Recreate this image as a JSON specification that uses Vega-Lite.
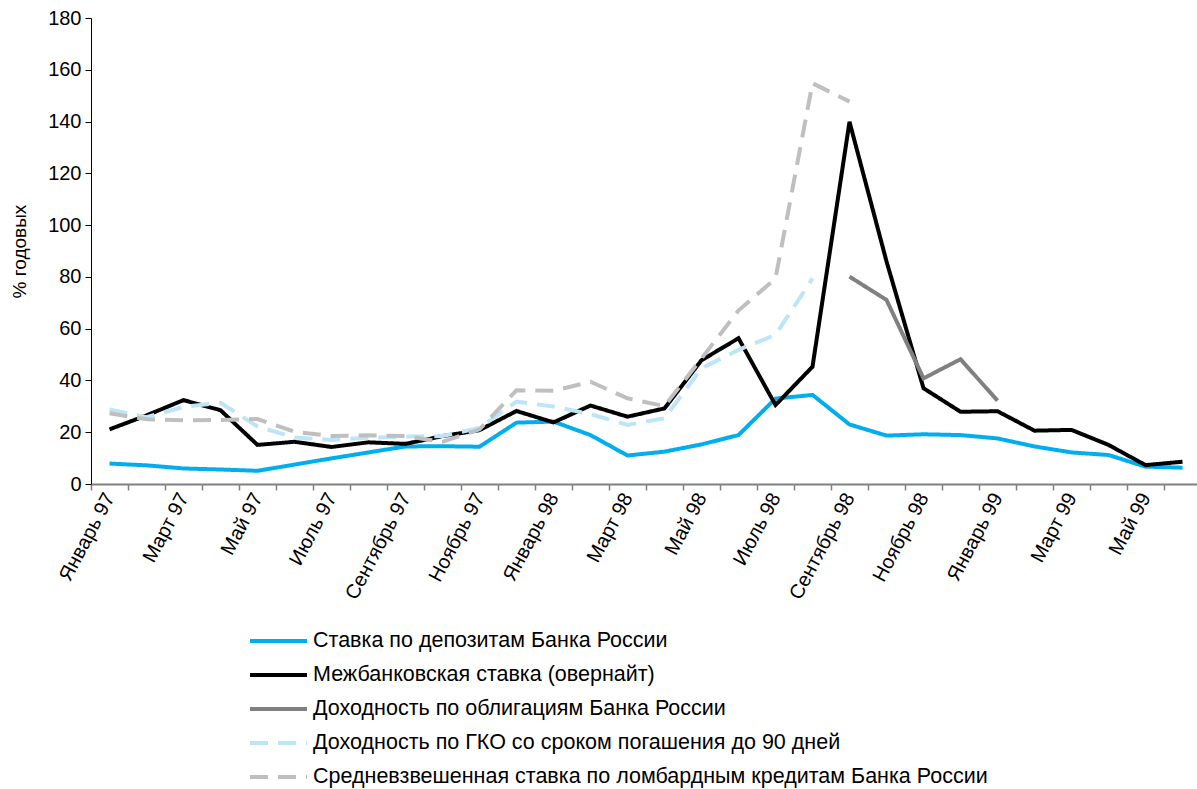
{
  "$schema": "https://vega.github.io/schema/vega-lite/v6.json",
  "width": 1110,
  "height": 466,
  "autosize": {"type": "none"},
  "padding": {"left": 91, "top": 18, "right": 0, "bottom": 305},
  "background": "white",
  "config": {"font": "Liberation Sans", "view": {"stroke": null}},
  "data": {"values": [
    {"m":"Январь 97","s":"Ставка по депозитам Банка России","v":7.9},
    {"m":"Февраль 97","s":"Ставка по депозитам Банка России","v":7.2},
    {"m":"Март 97","s":"Ставка по депозитам Банка России","v":6.0},
    {"m":"Апрель 97","s":"Ставка по депозитам Банка России","v":5.6},
    {"m":"Май 97","s":"Ставка по депозитам Банка России","v":5.1},
    {"m":"Июнь 97","s":"Ставка по депозитам Банка России","v":7.5},
    {"m":"Июль 97","s":"Ставка по депозитам Банка России","v":9.9},
    {"m":"Август 97","s":"Ставка по депозитам Банка России","v":12.2},
    {"m":"Сентябрь 97","s":"Ставка по депозитам Банка России","v":14.5},
    {"m":"Октябрь 97","s":"Ставка по депозитам Банка России","v":14.6},
    {"m":"Ноябрь 97","s":"Ставка по депозитам Банка России","v":14.4},
    {"m":"Декабрь 97","s":"Ставка по депозитам Банка России","v":23.7},
    {"m":"Январь 98","s":"Ставка по депозитам Банка России","v":24.1},
    {"m":"Февраль 98","s":"Ставка по депозитам Банка России","v":18.9},
    {"m":"Март 98","s":"Ставка по депозитам Банка России","v":11.0},
    {"m":"Апрель 98","s":"Ставка по депозитам Банка России","v":12.5},
    {"m":"Май 98","s":"Ставка по депозитам Банка России","v":15.3},
    {"m":"Июнь 98","s":"Ставка по депозитам Банка России","v":18.9},
    {"m":"Июль 98","s":"Ставка по депозитам Банка России","v":33.0},
    {"m":"Август 98","s":"Ставка по депозитам Банка России","v":34.4},
    {"m":"Сентябрь 98","s":"Ставка по депозитам Банка России","v":23.0},
    {"m":"Октябрь 98","s":"Ставка по депозитам Банка России","v":18.7},
    {"m":"Ноябрь 98","s":"Ставка по депозитам Банка России","v":19.2},
    {"m":"Декабрь 98","s":"Ставка по депозитам Банка России","v":18.9},
    {"m":"Январь 99","s":"Ставка по депозитам Банка России","v":17.6},
    {"m":"Февраль 99","s":"Ставка по депозитам Банка России","v":14.5},
    {"m":"Март 99","s":"Ставка по депозитам Банка России","v":12.2},
    {"m":"Апрель 99","s":"Ставка по депозитам Банка России","v":11.2},
    {"m":"Май 99","s":"Ставка по депозитам Банка России","v":6.7},
    {"m":"Июнь 99","s":"Ставка по депозитам Банка России","v":6.3},

    {"m":"Январь 97","s":"Межбанковская ставка (овернайт)","v":21.1},
    {"m":"Февраль 97","s":"Межбанковская ставка (овернайт)","v":26.5},
    {"m":"Март 97","s":"Межбанковская ставка (овернайт)","v":32.4},
    {"m":"Апрель 97","s":"Межбанковская ставка (овернайт)","v":28.5},
    {"m":"Май 97","s":"Межбанковская ставка (овернайт)","v":15.1},
    {"m":"Июнь 97","s":"Межбанковская ставка (овернайт)","v":16.3},
    {"m":"Июль 97","s":"Межбанковская ставка (овернайт)","v":14.3},
    {"m":"Август 97","s":"Межбанковская ставка (овернайт)","v":16.1},
    {"m":"Сентябрь 97","s":"Межбанковская ставка (овернайт)","v":15.5},
    {"m":"Октябрь 97","s":"Межбанковская ставка (овернайт)","v":18.5},
    {"m":"Ноябрь 97","s":"Межбанковская ставка (овернайт)","v":20.8},
    {"m":"Декабрь 97","s":"Межбанковская ставка (овернайт)","v":28.2},
    {"m":"Январь 98","s":"Межбанковская ставка (овернайт)","v":23.8},
    {"m":"Февраль 98","s":"Межбанковская ставка (овернайт)","v":30.3},
    {"m":"Март 98","s":"Межбанковская ставка (овернайт)","v":26.0},
    {"m":"Апрель 98","s":"Межбанковская ставка (овернайт)","v":29.2},
    {"m":"Май 98","s":"Межбанковская ставка (овернайт)","v":47.8},
    {"m":"Июнь 98","s":"Межбанковская ставка (овернайт)","v":56.3},
    {"m":"Июль 98","s":"Межбанковская ставка (овернайт)","v":30.5},
    {"m":"Август 98","s":"Межбанковская ставка (овернайт)","v":45.3},
    {"m":"Сентябрь 98","s":"Межбанковская ставка (овернайт)","v":139.9},
    {"m":"Октябрь 98","s":"Межбанковская ставка (овернайт)","v":86.0},
    {"m":"Ноябрь 98","s":"Межбанковская ставка (овернайт)","v":37.0},
    {"m":"Декабрь 98","s":"Межбанковская ставка (овернайт)","v":27.9},
    {"m":"Январь 99","s":"Межбанковская ставка (овернайт)","v":28.1},
    {"m":"Февраль 99","s":"Межбанковская ставка (овернайт)","v":20.6},
    {"m":"Март 99","s":"Межбанковская ставка (овернайт)","v":20.9},
    {"m":"Апрель 99","s":"Межбанковская ставка (овернайт)","v":15.1},
    {"m":"Май 99","s":"Межбанковская ставка (овернайт)","v":7.3},
    {"m":"Июнь 99","s":"Межбанковская ставка (овернайт)","v":8.6},

    {"m":"Сентябрь 98","s":"Доходность по облигациям Банка России","v":80.1},
    {"m":"Октябрь 98","s":"Доходность по облигациям Банка России","v":71.1},
    {"m":"Ноябрь 98","s":"Доходность по облигациям Банка России","v":40.8},
    {"m":"Декабрь 98","s":"Доходность по облигациям Банка России","v":48.2},
    {"m":"Январь 99","s":"Доходность по облигациям Банка России","v":32.2},

    {"m":"Январь 97","s":"Доходность по ГКО со сроком погашения до 90 дней","v":28.8},
    {"m":"Февраль 97","s":"Доходность по ГКО со сроком погашения до 90 дней","v":25.8},
    {"m":"Март 97","s":"Доходность по ГКО со сроком погашения до 90 дней","v":29.8},
    {"m":"Апрель 97","s":"Доходность по ГКО со сроком погашения до 90 дней","v":31.4},
    {"m":"Май 97","s":"Доходность по ГКО со сроком погашения до 90 дней","v":22.2},
    {"m":"Июнь 97","s":"Доходность по ГКО со сроком погашения до 90 дней","v":18.0},
    {"m":"Июль 97","s":"Доходность по ГКО со сроком погашения до 90 дней","v":17.0},
    {"m":"Август 97","s":"Доходность по ГКО со сроком погашения до 90 дней","v":17.9},
    {"m":"Сентябрь 97","s":"Доходность по ГКО со сроком погашения до 90 дней","v":18.3},
    {"m":"Октябрь 97","s":"Доходность по ГКО со сроком погашения до 90 дней","v":18.5},
    {"m":"Ноябрь 97","s":"Доходность по ГКО со сроком погашения до 90 дней","v":21.7},
    {"m":"Декабрь 97","s":"Доходность по ГКО со сроком погашения до 90 дней","v":31.8},
    {"m":"Январь 98","s":"Доходность по ГКО со сроком погашения до 90 дней","v":29.9},
    {"m":"Февраль 98","s":"Доходность по ГКО со сроком погашения до 90 дней","v":27.0},
    {"m":"Март 98","s":"Доходность по ГКО со сроком погашения до 90 дней","v":22.8},
    {"m":"Апрель 98","s":"Доходность по ГКО со сроком погашения до 90 дней","v":25.4},
    {"m":"Май 98","s":"Доходность по ГКО со сроком погашения до 90 дней","v":44.7},
    {"m":"Июнь 98","s":"Доходность по ГКО со сроком погашения до 90 дней","v":51.8},
    {"m":"Июль 98","s":"Доходность по ГКО со сроком погашения до 90 дней","v":57.6},
    {"m":"Август 98","s":"Доходность по ГКО со сроком погашения до 90 дней","v":79.4},

    {"m":"Январь 97","s":"Средневзвешенная ставка по ломбардным кредитам Банка России","v":27.3},
    {"m":"Февраль 97","s":"Средневзвешенная ставка по ломбардным кредитам Банка России","v":25.0},
    {"m":"Март 97","s":"Средневзвешенная ставка по ломбардным кредитам Банка России","v":24.6},
    {"m":"Апрель 97","s":"Средневзвешенная ставка по ломбардным кредитам Банка России","v":24.7},
    {"m":"Май 97","s":"Средневзвешенная ставка по ломбардным кредитам Банка России","v":25.1},
    {"m":"Июнь 97","s":"Средневзвешенная ставка по ломбардным кредитам Банка России","v":20.2},
    {"m":"Июль 97","s":"Средневзвешенная ставка по ломбардным кредитам Банка России","v":18.5},
    {"m":"Август 97","s":"Средневзвешенная ставка по ломбардным кредитам Банка России","v":18.8},
    {"m":"Сентябрь 97","s":"Средневзвешенная ставка по ломбардным кредитам Банка России","v":18.5},
    {"m":"Октябрь 97","s":"Средневзвешенная ставка по ломбардным кредитам Банка России","v":16.3},
    {"m":"Ноябрь 97","s":"Средневзвешенная ставка по ломбардным кредитам Банка России","v":21.1},
    {"m":"Декабрь 97","s":"Средневзвешенная ставка по ломбардным кредитам Банка России","v":36.2},
    {"m":"Январь 98","s":"Средневзвешенная ставка по ломбардным кредитам Банка России","v":36.0},
    {"m":"Февраль 98","s":"Средневзвешенная ставка по ломбардным кредитам Банка России","v":39.5},
    {"m":"Март 98","s":"Средневзвешенная ставка по ломбардным кредитам Банка России","v":33.1},
    {"m":"Апрель 98","s":"Средневзвешенная ставка по ломбардным кредитам Банка России","v":30.1},
    {"m":"Май 98","s":"Средневзвешенная ставка по ломбардным кредитам Банка России","v":48.5},
    {"m":"Июнь 98","s":"Средневзвешенная ставка по ломбардным кредитам Банка России","v":67.0},
    {"m":"Июль 98","s":"Средневзвешенная ставка по ломбардным кредитам Банка России","v":79.4},
    {"m":"Август 98","s":"Средневзвешенная ставка по ломбардным кредитам Банка России","v":154.8},
    {"m":"Сентябрь 98","s":"Средневзвешенная ставка по ломбардным кредитам Банка России","v":147.7}
  ]},
  "mark": {"type": "line", "strokeWidth": 4, "strokeJoin": "miter"},
  "encoding": {
    "x": {
      "field": "m",
      "type": "ordinal",
      "scale": {
        "type": "point",
        "padding": 0.5,
        "domain": ["Январь 97","Февраль 97","Март 97","Апрель 97","Май 97","Июнь 97","Июль 97","Август 97","Сентябрь 97","Октябрь 97","Ноябрь 97","Декабрь 97","Январь 98","Февраль 98","Март 98","Апрель 98","Май 98","Июнь 98","Июль 98","Август 98","Сентябрь 98","Октябрь 98","Ноябрь 98","Декабрь 98","Январь 99","Февраль 99","Март 99","Апрель 99","Май 99","Июнь 99"]
      },
      "axis": {
        "title": null,
        "tickOffset": -18.5,
        "labelOffset": 18.5,
        "labelAngle": -62,
        "labelFontSize": 20,
        "labelColor": "black",
        "labelOverlap": false,
        "labelBound": false,
        "labelPadding": 4,
        "domainColor": "#808080",
        "domainWidth": 2,
        "tickColor": "#808080",
        "tickWidth": 1.5,
        "tickSize": 6,
        "labelExpr": "test(/^(Февраль|Апрель|Июнь|Август|Октябрь|Декабрь)/, datum.value) ? '' : datum.value"
      }
    },
    "y": {
      "field": "v",
      "type": "quantitative",
      "scale": {"domain": [0, 180], "nice": false},
      "axis": {
        "title": "% годовых",
        "values": [0, 20, 40, 60, 80, 100, 120, 140, 160, 180],
        "grid": false,
        "labelFontSize": 20,
        "labelColor": "black",
        "labelPadding": 4,
        "titleFontSize": 19,
        "titleFontWeight": "normal",
        "titleColor": "black",
        "titlePadding": 18,
        "domainColor": "black",
        "tickColor": "black",
        "tickSize": 6
      }
    },
    "color": {
      "field": "s",
      "type": "nominal",
      "scale": {
        "domain": ["Ставка по депозитам Банка России","Межбанковская ставка (овернайт)","Доходность по облигациям Банка России","Доходность по ГКО со сроком погашения до 90 дней","Средневзвешенная ставка по ломбардным кредитам Банка России"],
        "range": ["#00AEEF", "#000000", "#808080", "#BDE5F8", "#BFBFBF"]
      },
      "legend": {
        "title": null,
        "orient": "none",
        "legendX": 157,
        "legendY": 606,
        "direction": "vertical",
        "symbolType": "stroke",
        "symbolSize": 3249,
        "symbolStrokeWidth": 4,
        "labelFontSize": 21.5,
        "labelColor": "black",
        "labelLimit": 0,
        "labelOffset": 4,
        "rowPadding": 0,
        "clipHeight": 34
      }
    },
    "strokeDash": {
      "field": "s",
      "type": "nominal",
      "scale": {
        "domain": ["Ставка по депозитам Банка России","Межбанковская ставка (овернайт)","Доходность по облигациям Банка России","Доходность по ГКО со сроком погашения до 90 дней","Средневзвешенная ставка по ломбардным кредитам Банка России"],
        "range": [[1, 0], [1, 0], [1, 0], [18, 10], [18, 10]]
      },
      "legend": null
    }
  }
}
